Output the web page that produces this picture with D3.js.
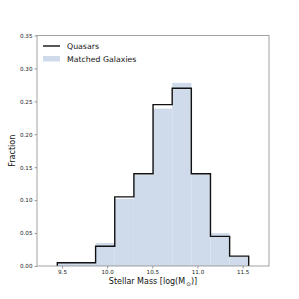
<!DOCTYPE html>
<html>
<head>
<meta charset="utf-8">
<script src="https://cdn.jsdelivr.net/npm/d3@7"></script>
<style>
  body { margin: 0; background: #fff; }
  svg { display: block; font-family: "DejaVu Sans", sans-serif; }
</style>
</head>
<body>
<div id="chart"></div>
<script>
// histogram bins (log stellar mass) and fractions
var binEdges = [9.448, 9.660, 9.872, 10.084, 10.296, 10.508, 10.720, 10.932, 11.144, 11.356, 11.567];
var quasarFrac = [0.005, 0.005, 0.030, 0.105, 0.140, 0.245, 0.270, 0.140, 0.045, 0.015];
var galaxyFrac = [0.005, 0.005, 0.035, 0.102, 0.138, 0.239, 0.278, 0.139, 0.050, 0.014];
var xTicks = [9.5, 10.0, 10.5, 11.0, 11.5];
var yTicks = [0.00, 0.05, 0.10, 0.15, 0.20, 0.25, 0.30, 0.35];
var legendLabels = ["Quasars", "Matched Galaxies"];

var W = 299, H = 299;
var margin = {top: 35.5, right: 30, bottom: 33, left: 37};
var width = W - margin.left - margin.right;
var height = H - margin.top - margin.bottom;

var svg = d3.select("#chart").append("svg")
    .attr("width", W)
    .attr("height", H);

var g = svg.append("g")
    .attr("transform", "translate(" + margin.left + "," + margin.top + ")");

var x = d3.scaleLinear().domain([9.223, 11.792]).range([0, width]);
var y = d3.scaleLinear().domain([0, 0.35]).range([height, 0]);

// galaxy bars (filled)
var galaxyBins = galaxyFrac.map(function(v, i) {
    return {x0: binEdges[i], x1: binEdges[i + 1], v: v};
});
g.selectAll("rect.gal")
    .data(galaxyBins)
    .enter().append("rect")
    .attr("class", "gal")
    .attr("x", function(d) { return x(d.x0); })
    .attr("width", function(d) { return x(d.x1) - x(d.x0); })
    .attr("y", function(d) { return y(d.v); })
    .attr("height", function(d) { return y(0) - y(d.v); })
    .attr("fill", "#cfdbeb");

// quasar step outline
var steps = [[binEdges[0], 0]];
quasarFrac.forEach(function(v, i) {
    steps.push([binEdges[i], v]);
    steps.push([binEdges[i + 1], v]);
});
steps.push([binEdges[binEdges.length - 1], 0]);

var line = d3.line()
    .x(function(d) { return x(d[0]); })
    .y(function(d) { return y(d[1]); });

g.append("path")
    .datum(steps)
    .attr("fill", "none")
    .attr("stroke", "#111")
    .attr("stroke-width", 1.4)
    .attr("d", line);

// axes
var xAxis = g.append("g")
    .attr("transform", "translate(0," + height + ")")
    .call(d3.axisBottom(x).tickValues(xTicks).tickFormat(d3.format(".1f")).tickSize(2.5).tickPadding(2));
var yAxis = g.append("g")
    .call(d3.axisLeft(y).tickValues(yTicks).tickFormat(d3.format(".2f")).tickSize(2.5).tickPadding(2));

[xAxis, yAxis].forEach(function(a) {
    a.select(".domain").remove();
    a.selectAll(".tick line").attr("stroke", "#555").attr("stroke-width", 0.6);
    a.selectAll(".tick text").attr("fill", "#222").style("font-size", "5.6px").style("font-family", "DejaVu Sans");
});

// frame
g.append("rect")
    .attr("x", 0).attr("y", 0)
    .attr("width", width).attr("height", height)
    .attr("fill", "none")
    .attr("stroke", "#8a8a8a")
    .attr("stroke-width", 0.8);

// axis labels
var xl = svg.append("text")
    .attr("x", margin.left + width / 2)
    .attr("y", 284)
    .attr("text-anchor", "middle")
    .style("font-size", "8px")
    .attr("fill", "#111");
xl.append("tspan").text("Stellar Mass [log(M");
xl.append("tspan").attr("dy", 1.5).style("font-size", "5.6px").text("\u2009\u2299");
xl.append("tspan").attr("dy", -1.5).text(")]");

svg.append("text")
    .attr("transform", "translate(14.5," + (margin.top + height / 2) + ")rotate(-90)")
    .attr("text-anchor", "middle")
    .style("font-size", "8px")
    .attr("fill", "#111")
    .text("Fraction");

// legend
var leg = g.append("g").attr("transform", "translate(6,10.5)");
leg.append("line")
    .attr("x1", 0).attr("x2", 17)
    .attr("y1", 0).attr("y2", 0)
    .attr("stroke", "#111").attr("stroke-width", 1.4);
leg.append("rect")
    .attr("x", 0).attr("y", 10).attr("width", 17).attr("height", 5.5)
    .attr("fill", "#cfdbeb");
leg.selectAll("text.lab")
    .data(legendLabels)
    .enter().append("text")
    .attr("class", "lab")
    .attr("x", 24)
    .attr("y", function(d, i) { return i * 13 + 2.8; })
    .style("font-size", "7.8px")
    .attr("fill", "#111")
    .text(function(d) { return d; });
</script>
</body>
</html>
